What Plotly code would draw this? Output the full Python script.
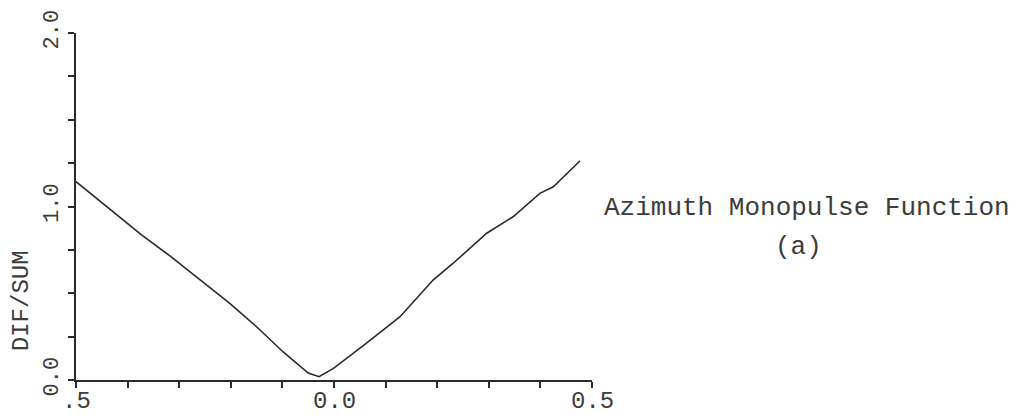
import plotly.graph_objects as go

# Data
x_vals = [-0.5, -0.415, -0.373, -0.318, -0.266, -0.202, -0.150, -0.099, -0.050, -0.029,
          -0.001, 0.063, 0.128, 0.192, 0.231, 0.296, 0.347, 0.399, 0.425, 0.477]
y_vals = [1.143, 0.941, 0.836, 0.715, 0.595, 0.442, 0.307, 0.163, 0.040, 0.019,
          0.067, 0.212, 0.365, 0.576, 0.673, 0.846, 0.941, 1.076, 1.114, 1.264]

x_tick_vals = [-0.5, 0.0, 0.5]
x_tick_text = [".5", "0.0", "0.5"]
y_tick_vals = [0.0, 1.0, 2.0]
y_tick_text = ["0.0", "1.0", "2.0"]

y_title = "DIF/SUM"
plot_title = "Azimuth Monopulse Function"
plot_sub = "(a)"

FONT = "Liberation Mono"
TXT = "#3c3c3c"
INK = "#2a2a2a"

fig = go.Figure()
fig.add_trace(go.Scatter(x=x_vals, y=y_vals, mode="lines",
                         line=dict(color=INK, width=1.6), showlegend=False))

# x tick labels placed just under the axis (closer than Plotly's default offset)
x_label_annots = [
    dict(text=t, x=v, xref="x", y=0, yref="paper", xanchor="center", yanchor="top",
         yshift=-6, showarrow=False, font=dict(family=FONT, size=24, color=TXT))
    for v, t in zip(x_tick_vals, x_tick_text)
]

fig.update_layout(
    width=1025, height=416,
    margin=dict(l=76, r=433, t=33, b=36, autoexpand=False),
    paper_bgcolor="white", plot_bgcolor="white",
    font=dict(family=FONT, color=TXT, size=24),
    xaxis=dict(range=[-0.5, 0.5], showgrid=False, zeroline=False, automargin=False,
               showline=True, linecolor=INK, linewidth=1.6,
               tickmode="array", tickvals=x_tick_vals, ticktext=x_tick_text,
               showticklabels=False,
               ticks="outside", ticklen=6, tickwidth=1.5, tickcolor=INK,
               minor=dict(dtick=0.1, ticks="outside", ticklen=6, tickwidth=1.5, tickcolor=INK)),
    yaxis=dict(range=[0, 2.0], showgrid=False, zeroline=False, automargin=False,
               showline=True, linecolor=INK, linewidth=1.6,
               tickmode="array", tickvals=y_tick_vals, ticktext=y_tick_text,
               ticks="outside", ticklen=6, tickwidth=1.5, tickcolor=INK,
               minor=dict(dtick=0.25, ticks="outside", ticklen=6, tickwidth=1.5, tickcolor=INK),
               tickangle=-90,
               tickfont=dict(family=FONT, size=22, color=TXT),
               ticklabelstandoff=1),
    annotations=x_label_annots + [
        dict(text=y_title, xref="paper", yref="paper", x=-0.104, y=0.228,
             xanchor="center", yanchor="middle", textangle=-90, showarrow=False,
             font=dict(family=FONT, size=24, color=TXT)),
        dict(text=plot_title, xref="paper", yref="paper", x=1.417, y=0.496,
             xanchor="center", yanchor="middle", showarrow=False,
             font=dict(family=FONT, size=26, color=TXT)),
        dict(text=plot_sub, xref="paper", yref="paper", x=1.401, y=0.383,
             xanchor="center", yanchor="middle", showarrow=False,
             font=dict(family=FONT, size=26, color=TXT)),
    ],
)

fig.write_html("out.html", config={"displayModeBar": False},
               post_script="document.body.style.margin='0';document.body.style.overflow='hidden';")
